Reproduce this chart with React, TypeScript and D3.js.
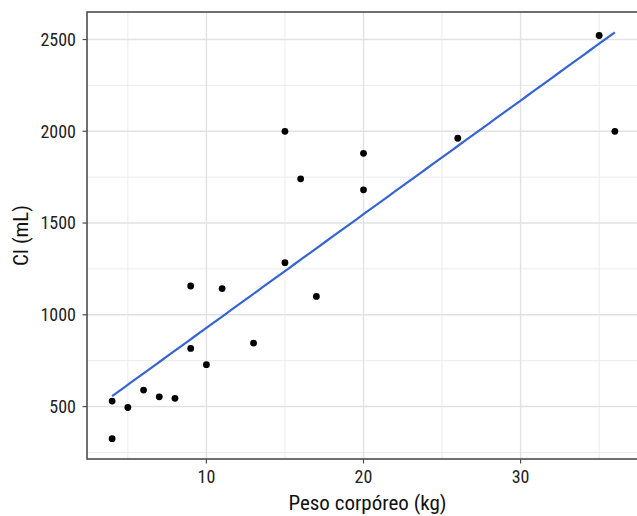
import React from "react";
import * as d3 from "d3";

const weightKg = [4, 4, 5, 6, 7, 8, 9, 9, 10, 11, 13, 15, 15, 16, 17, 20, 20, 26, 35, 36];
const ciMl = [530, 325, 495, 590, 553, 545, 1157, 817, 728, 1143, 846, 1284, 2000, 1741, 1100, 1880, 1681, 1962, 2522, 2000];
const xTicks = [10, 20, 30];
const xMinor = [5, 15, 25, 35];
const yTicks = [500, 1000, 1500, 2000, 2500];
const yMinor = [250, 750, 1250, 1750, 2250];
const xTitle = "Peso corpóreo (kg)";
const yTitle = "CI (mL)";

const W = 637;
const H = 516;
const left = 87;
const right = 640;
const top = 12;
const bottom = 459;
const FONT = "'Liberation Sans Narrow', 'Roboto Condensed', 'Arial Narrow', sans-serif";

export default function App() {
  const pts = weightKg.map((x, i) => ({ x, y: ciMl[i] }));
  const mx = d3.mean(weightKg)!;
  const my = d3.mean(ciMl)!;
  const sxx = d3.sum(weightKg, (x) => (x - mx) * (x - mx));
  const sxy = d3.sum(pts, (p) => (p.x - mx) * p.y);
  const slope = sxy / sxx;
  const intercept = my - slope * mx;
  const [x0, x1] = d3.extent(weightKg) as [number, number];
  const fit = d3.range(0, 81).map((i) => {
    const x = x0 + ((x1 - x0) * i) / 80;
    return { x, y: intercept + slope * x };
  });

  const xr = x1 - x0;
  const allY = ciMl.concat(fit.map((f) => f.y));
  const ylo = d3.min(allY)!;
  const yhi = d3.max(allY)!;
  const yr = yhi - ylo;

  const xs = d3.scaleLinear().domain([x0 - 0.05 * xr, x1 + 0.05 * xr]).range([left, right]);
  const ys = d3.scaleLinear().domain([ylo - 0.05 * yr, yhi + 0.05 * yr]).range([bottom, top]);

  const line = d3
    .line<{ x: number; y: number }>()
    .x((d) => xs(d.x))
    .y((d) => ys(d.y));

  return (
    <svg
      width={W}
      height={H}
      style={{ position: "absolute", left: 0, top: 0, background: "#fff" }}
      fontFamily={FONT}
    >
      <rect x={0} y={0} width={W} height={H} fill="#fff" />
      {xMinor.map((v) => (
        <line key={"xm" + v} x1={xs(v)} x2={xs(v)} y1={top} y2={bottom} stroke="#ebebeb" strokeWidth={1} />
      ))}
      {yMinor.map((v) => (
        <line key={"ym" + v} x1={left} x2={right} y1={ys(v)} y2={ys(v)} stroke="#ebebeb" strokeWidth={1} />
      ))}
      {xTicks.map((v) => (
        <line key={"xg" + v} x1={xs(v)} x2={xs(v)} y1={top} y2={bottom} stroke="#e2e2e2" strokeWidth={1.4} />
      ))}
      {yTicks.map((v) => (
        <line key={"yg" + v} x1={left} x2={right} y1={ys(v)} y2={ys(v)} stroke="#e2e2e2" strokeWidth={1.4} />
      ))}
      <path d={line(fit) || ""} fill="none" stroke="#3564d4" strokeWidth={2.2} />
      {pts.map((p, i) => (
        <circle key={i} cx={xs(p.x)} cy={ys(p.y)} r={3.4} fill="#000" />
      ))}
      <rect
        x={left}
        y={top}
        width={right - left}
        height={bottom - top}
        fill="none"
        stroke="#4d4d4d"
        strokeWidth={1.6}
      />
      {yTicks.map((v) => (
        <g key={"yt" + v}>
          <line x1={left - 4.5} x2={left} y1={ys(v)} y2={ys(v)} stroke="#4d4d4d" strokeWidth={1.2} />
          <text x={left - 11} y={ys(v)} dy="0.35em" textAnchor="end" fontSize={18} fill="#222">
            {v}
          </text>
        </g>
      ))}
      {xTicks.map((v) => (
        <g key={"xt" + v}>
          <line x1={xs(v)} x2={xs(v)} y1={bottom} y2={bottom + 4.5} stroke="#4d4d4d" strokeWidth={1.2} />
          <text x={xs(v)} y={483} textAnchor="middle" fontSize={18} fill="#222">
            {v}
          </text>
        </g>
      ))}
      <text x={(left + right) / 2 + 4} y={510} textAnchor="middle" fontSize={21} fill="#111">
        {xTitle}
      </text>
      <text
        transform={`translate(28, ${(top + bottom) / 2}) rotate(-90)`}
        textAnchor="middle"
        fontSize={21}
        fill="#111"
      >
        {yTitle}
      </text>
    </svg>
  );
}
